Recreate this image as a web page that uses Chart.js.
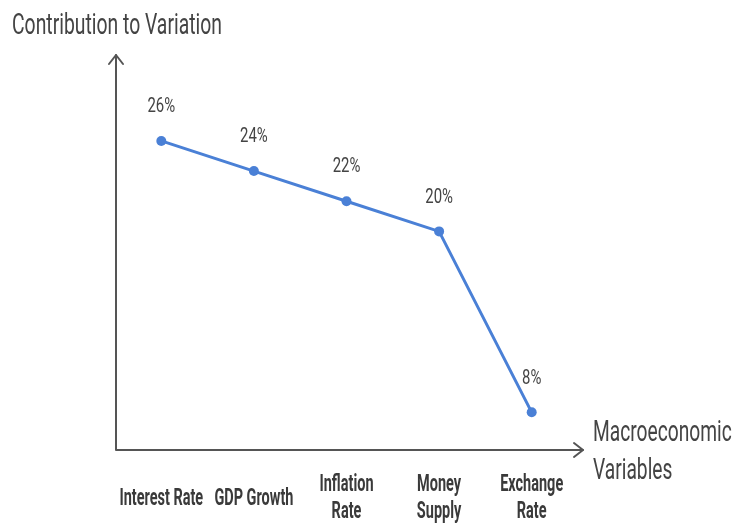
<!DOCTYPE html>
<html>
<head>
<meta charset="utf-8">
<script src="https://cdn.jsdelivr.net/npm/chart.js@4.4.1/dist/chart.umd.min.js"></script>
<style>
  html, body { margin: 0; padding: 0; background: #ffffff; }
  #wrap { width: 733px; height: 523px; position: relative; }
</style>
</head>
<body>
<div id="wrap"><canvas id="variationChart"></canvas></div>
<script>
// 거시변수별 변동 기여도
const categories = ["Interest Rate", "GDP Growth", ["Inflation", "Rate"], ["Money", "Supply"], ["Exchange", "Rate"]]
const contribution = [26, 24, 22, 20, 8]
const yRange = [5.5, 31.7]

const lineColor = "#4a80d6"
const axisColor = "#555555"
const textColor = "#444444"

// 좁은 글꼴 느낌을 내기 위해 가로로 눌러서 그림
function drawNarrow(ctx, text, x, y, font, sx, align, color) {
  ctx.save()
  ctx.font = font
  ctx.fillStyle = color || textColor
  ctx.textAlign = align || "center"
  ctx.textBaseline = "middle"
  ctx.translate(x, y)
  ctx.scale(sx, 1)
  ctx.fillText(text, 0, 0)
  ctx.restore()
}

// 축 화살표와 축 제목
const axisArrows = {
  id: "axisArrows",
  beforeDatasetsDraw(chart) {
    const { ctx, chartArea } = chart
    const left = chartArea.left + 1
    const bottom = chartArea.bottom
    const top = chartArea.top
    const right = chartArea.right + 5
    ctx.save()
    ctx.strokeStyle = axisColor
    ctx.lineWidth = 2
    ctx.lineCap = "round"
    ctx.lineJoin = "round"
    ctx.beginPath()
    ctx.moveTo(left, top)
    ctx.lineTo(left, bottom)
    ctx.lineTo(right, bottom)
    ctx.stroke()
    // 위쪽 화살촉
    ctx.beginPath()
    ctx.moveTo(left - 7, top + 9)
    ctx.lineTo(left, top)
    ctx.lineTo(left + 7, top + 9)
    ctx.stroke()
    // 오른쪽 화살촉
    ctx.beginPath()
    ctx.moveTo(right - 9, bottom - 7)
    ctx.lineTo(right, bottom)
    ctx.lineTo(right - 9, bottom + 7)
    ctx.stroke()
    ctx.restore()

    const titleFont = "30px Roboto"
    drawNarrow(ctx, "Contribution to Variation", 12, 26, titleFont, 0.645, "left")
    drawNarrow(ctx, "Macroeconomic", 593, 433, titleFont, 0.64, "left")
    drawNarrow(ctx, "Variables", 593, 471, titleFont, 0.64, "left")
  },
  afterDraw(chart) {
    const { ctx } = chart
    const xScale = chart.scales.x
    // x축 눈금 글자 (두 줄짜리는 세로 가운데 맞춤)
    categories.forEach((label, i) => {
      const x = xScale.getPixelForTick(i)
      const lines = Array.isArray(label) ? label : [label]
      const lineH = 27
      const startY = 499 - (lines.length - 1) * lineH / 2
      lines.forEach((line, j) => {
        drawNarrow(ctx, line, x, startY + j * lineH, "bold 23px Roboto", 0.63, "center", "#3a3a3a")
      })
    })
    // 점 위의 값 표시
    const meta = chart.getDatasetMeta(0)
    meta.data.forEach((pt, i) => {
      drawNarrow(ctx, contribution[i] + "%", pt.x, pt.y - 34, "21px Roboto", 0.71, "center")
    })
  },
}

const chartCtx = document.getElementById("variationChart")
window.variationChart = new Chart(chartCtx, {
  type: "line",
  data: {
    labels: categories,
    datasets: [
      {
        label: "Contribution",
        data: contribution,
        borderColor: lineColor,
        backgroundColor: lineColor,
        borderWidth: 3,
        pointRadius: 5,
        pointBackgroundColor: lineColor,
        pointBorderWidth: 0,
        tension: 0,
        fill: false,
      },
    ],
  },
  options: {
    responsive: true,
    maintainAspectRatio: false,
    animation: false,
    layout: {
      padding: { left: 115, right: 155, top: 55, bottom: 73 },
    },
    plugins: {
      legend: { display: false },
      tooltip: { enabled: false },
    },
    scales: {
      x: {
        type: "category",
        offset: true,
        display: true,
        grid: { display: false, drawTicks: false },
        border: { display: false },
        ticks: { display: false },
      },
      y: {
        display: false,
        min: yRange[0],
        max: yRange[1],
      },
    },
  },
  plugins: [axisArrows],
})
</script>
</body>
</html>
